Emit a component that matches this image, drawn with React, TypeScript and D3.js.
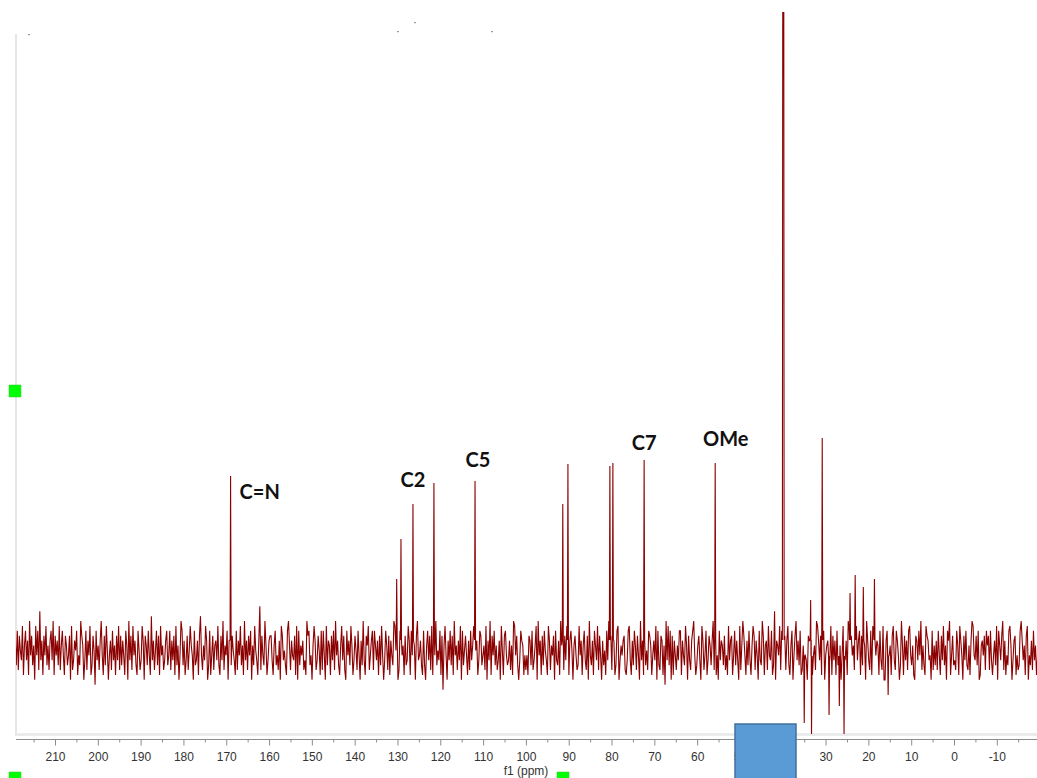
import React from "react";
import * as d3 from "d3";

// 13C spectrum: baseline noise trace (one char per sample, 'i'/'j' ~ zero)
const NOISE_ROWS = [
  "kfmeligndjmgkdohlfjcnhmeqgkdlhnfjekmgodlhkfnejmhdl",
  "jfhlcnegkimdhfoljcgmekhndflibmgjekohdlfnichkemgjdl",
  "gnelfkhdmjcoglenhkfdmiegnkcljfmhdpgkeimfldnhjegkmf",
  "hmekgldnfjchomfkdgleinjhcmfgkdlphejgnkcfmdhlejkgnf",
  "dlgoejhmcknfligdmekhnfjdogkelhmcjfnigdkrelhfojdgkl",
  "lgdjmfhekcnlgifdmojekhgldncmfjhkegdolmfhcjnkeglidm",
  "emhcnfkjdlgmeohkfdjnglecmhkfnjdgliemhckfogdljnehkm",
  "emjgkdlfnhcgmjeldkhfonigcemkhjdlfgnkdmhejcloghkfdm",
  "fcjmglendkhofigmdlajnhckgmfldohjekgncmfilhdkemgjnf",
  "ikdgmlfhjenckgodlhmfjegkcnidlmhfgkejdonhlfcgmkjdhe",
  "hdlkfmegjncohkdlfmigdnkejhlcmgfkdojhelgnfdkmicjlhe",
  "fnhkdjmgelcohfkdmjgnelhckfidmgojlehkdfmncgjhkledgm",
  "ngdkfmjelhcogkdnfiemljdhkgncmfelkdjbognfmcldkhejgm",
  "mdkhfnjclgekmohdfjlgcnkehmdgljfkoendhcmgkjflehdngk",
  "ldhmfkgcnejolhdkfmgdjnlekhcmgfoldjkenhgmdfqckjhnem",
  "hgleknfdjmchlogkfmdejnhgclkfmdhjeonkgldfmchjkegndl",
  "gkdmfljchnegkdomflhjecngkmdlfhjcokgemdnlfhkjdmgenc",
  "ckmfhjdlngemkhcfojdlgkemnhfjdclkgmhoejfdnlkghcmejf",
  "kemhdlgnfjcmkodhlfgemjdnkhclgmfejdkonhglfmcdjkhlem",
  "jlemgdhkfncmjgloekdhfmnjcgkldhefmokgjdlnchfkemgjdh",
];
const NOISE_START_PPM = 219.4;
const NOISE_END_PPM = -19.4;

// Resonances (ppm), intensities and half-widths (ppm)
const PEAK_PPM = [169.1, 130.3, 129.3, 126.5, 121.6, 112.0, 91.5, 90.3, 80.5, 79.8, 72.5, 55.9, 40.0, 30.9, 33.6, 24.4, 23.2, 21.3, 18.7];
const PEAK_HEIGHT = [86, 34.5, 54.5, 72, 82.5, 83.5, 72, 92, 91, 92.5, 94, 92.5, 400, 105, 24, 27.5, 36.5, 30.5, 34.5];
const PEAK_HALF_WIDTH = [0.11, 0.11, 0.11, 0.11, 0.11, 0.11, 0.11, 0.11, 0.11, 0.11, 0.11, 0.11, 0.2, 0.11, 0.11, 0.11, 0.11, 0.11, 0.11];
// Negative (phase-inverted) signals
const NEG_PPM = [35.1, 33.4, 29.3, 26.9, 25.8, 15.5];
const NEG_HEIGHT = [-37.5, -43, -33.5, -29, -43, -23.5];

// Peak annotations
const LABEL_TEXT = ["C=N", "C2", "C5", "C7", "OMe"];
const LABEL_PPM = [169.1, 126.5, 112.0, 72.5, 55.9];

// Axis ticks
const MAJOR_TICKS = [210, 200, 190, 180, 170, 160, 150, 140, 130, 120, 110, 100, 90, 80, 70, 60, 50, 40, 30, 20, 10, 0, -10];
const MINOR_TICKS = [215, 205, 195, 185, 175, 165, 155, 145, 135, 125, 115, 105, 95, 85, 75, 65, 55, 45, 35, 25, 15, 5, -5, -15];

const W = 1037;
const H = 778;
const PLOT_LEFT = 16;
const PLOT_TOP = 12;
const AXIS_Y = 739.5;

// label placement relative to the annotated peak top: [dx, dy]
const LABEL_OFFSETS: [number, number][] = [
  [9, 23],
  [0, -17],
  [3, -14],
  [0, -10],
  [10.5, -17],
];

export default function App() {
  const x = d3.scaleLinear().domain([210, 0]).range([55.5, 954.5]);
  const y = d3.scaleLinear().domain([0, 100]).range([648, 448]);

  const noiseChars = NOISE_ROWS.join("");
  const n = noiseChars.length;
  const step = (NOISE_START_PPM - NOISE_END_PPM) / (n - 1);
  const zero = "i".charCodeAt(0) + 0.5;
  const pts: [number, number][] = [];
  for (let i = 0; i < n; i++) {
    const v = (noiseChars.charCodeAt(i) - zero) * 2.45;
    pts.push([NOISE_START_PPM - i * step, v]);
  }
  // drop baseline samples that fall inside a spike so each spike stays clean
  const spikes: [number, number, number][] = [];
  PEAK_PPM.forEach((p, i) => spikes.push([p, PEAK_HEIGHT[i], PEAK_HALF_WIDTH[i]]));
  NEG_PPM.forEach((p, i) => spikes.push([p, NEG_HEIGHT[i], 0.11]));
  const all: [number, number][] = pts.filter(
    ([p]) => !spikes.some(([sp, , hw]) => Math.abs(p - sp) < hw + 0.02)
  );
  spikes.forEach(([p, h, hw]) => {
    const base = h > 0 ? 4 : -4;
    all.push([p + hw + 0.01, base]);
    if (hw > 0.15) {
      all.push([p + hw * 0.5, h]);
      all.push([p - hw * 0.5, h]);
    } else {
      all.push([p, h]);
    }
    all.push([p - hw - 0.01, base]);
  });
  all.sort((a, b) => b[0] - a[0]);

  const line = d3
    .line<[number, number]>()
    .x((d) => x(d[0]))
    .y((d) => y(d[1]));

  const peakTop = (p: number) => y(PEAK_HEIGHT[PEAK_PPM.indexOf(p)]);

  return (
    <svg
      width={W}
      height={H}
      style={{ position: "absolute", left: 0, top: 0, background: "#fff" }}
    >
      <defs>
        <clipPath id="plotClip">
          <rect x={PLOT_LEFT} y={PLOT_TOP} width={W - PLOT_LEFT} height={735 - PLOT_TOP} />
        </clipPath>
      </defs>

      {/* frame lines */}
      <line x1={16} x2={16} y1={34} y2={736} stroke="#e6e6e6" strokeWidth={2} />
      <line x1={16} x2={W} y1={734.5} y2={734.5} stroke="#ebebeb" strokeWidth={3} />

      {/* stray marks at top */}
      {[
        [28, 34],
        [397, 31],
        [414, 22],
        [491, 31],
      ].map(([mx, my], i) => (
        <rect key={i} x={mx} y={my} width={2} height={1.2} fill="#9a9a9a" />
      ))}

      <g clipPath="url(#plotClip)">
        <path d={line(all) || ""} fill="none" stroke="#8b0000" strokeWidth={1.1} strokeLinejoin="miter" />
      </g>

      {/* labels */}
      {LABEL_TEXT.map((t, i) => {
        const [dx, dy] = LABEL_OFFSETS[i];
        const px = x(LABEL_PPM[i]) + dx;
        const py = peakTop(LABEL_PPM[i]) + dy;
        return (
          <text
            key={t}
            x={px}
            y={py}
            textAnchor={i === 0 ? "start" : "middle"}
            fontFamily="Lato, 'Open Sans', sans-serif"
            fontWeight={700}
            fontSize={20}
            fill="#111"
          >
            {t}
          </text>
        );
      })}

      {/* x axis */}
      <line x1={16} x2={W} y1={AXIS_Y} y2={AXIS_Y} stroke="#8c8c8c" strokeWidth={1} />
      {MAJOR_TICKS.map((t) => (
        <g key={"M" + t}>
          <line x1={x(t)} x2={x(t)} y1={AXIS_Y} y2={AXIS_Y + 6} stroke="#8c8c8c" />
          <text
            x={x(t)}
            y={761}
            textAnchor="middle"
            fontFamily="'Liberation Sans', Arial, sans-serif"
            fontSize={12}
            fill="#333"
          >
            {t}
          </text>
        </g>
      ))}
      {MINOR_TICKS.map((t) => (
        <line key={"m" + t} x1={x(t)} x2={x(t)} y1={AXIS_Y} y2={AXIS_Y + 3} stroke="#8c8c8c" />
      ))}
      <text
        x={526}
        y={775}
        textAnchor="middle"
        fontFamily="'Liberation Sans', Arial, sans-serif"
        fontSize={12}
        fill="#333"
      >
        f1 (ppm)
      </text>

      {/* selection box */}
      <rect x={735} y={724} width={61} height={60} fill="#5b9bd5" stroke="#41719c" strokeWidth={1.5} />

      {/* handles */}
      <rect x={9} y={385} width={12} height={12} fill="#00ff00" stroke="#3c3" strokeWidth={0.5} />
      <rect x={9} y={772} width={12} height={12} fill="#00ff00" stroke="#3c3" strokeWidth={0.5} />
      <rect x={557} y={772} width={12} height={12} fill="#00ff00" stroke="#3c3" strokeWidth={0.5} />
    </svg>
  );
}
